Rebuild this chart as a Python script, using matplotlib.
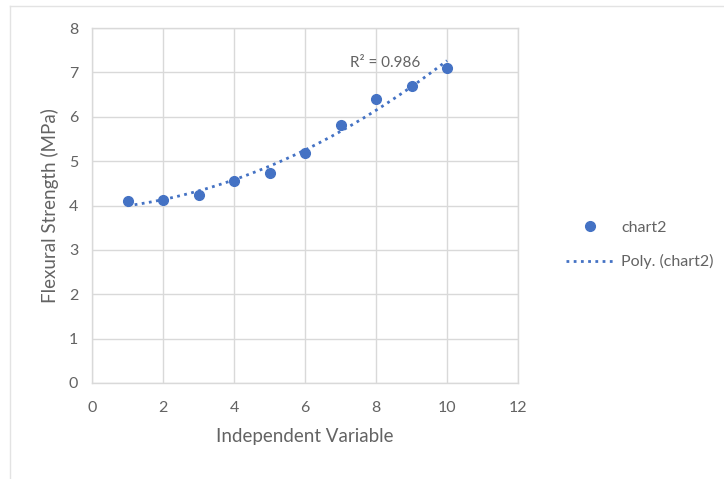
import numpy as np
import matplotlib
matplotlib.use("Agg")
import matplotlib.pyplot as plt
from matplotlib.lines import Line2D

x_vals = [1, 2, 3, 4, 5, 6, 7, 8, 9, 10]
y_vals = [4.10, 4.13, 4.23, 4.55, 4.74, 5.18, 5.81, 6.40, 6.70, 7.09]
series_name = "chart2"
trend_name = "Poly. (chart2)"
r2_label = "R² = 0.986"
x_label = "Independent Variable"
y_label = "Flexural Strength (MPa)"
x_ticks = [0, 2, 4, 6, 8, 10, 12]
y_ticks = [0, 1, 2, 3, 4, 5, 6, 7, 8]

plt.rcParams['font.family'] = ['Lato', 'DejaVu Sans']
blue = "#4472C4"
grid_c = "#d9d9d9"
text_c = "#636363"

fig = plt.figure(figsize=(7.24, 4.79), dpi=100)
ax = fig.add_axes([92/724, 1-383/479, 426/724, 355/479])

# trendline (2nd order polynomial fit)
coef = np.polyfit(x_vals, y_vals, 2)
xs = np.linspace(min(x_vals), max(x_vals), 200)
ax.plot(xs, np.polyval(coef, xs), linestyle=(0, (1, 1.6)), color=blue, lw=2.0, zorder=3)
ax.plot(x_vals, y_vals, 'o', color=blue, markersize=7, zorder=4)

ax.set_xlim(0, 12)
ax.set_ylim(0, 8)
ax.set_xticks(x_ticks)
ax.set_yticks(y_ticks)
ax.grid(True, color=grid_c, lw=1)
ax.set_axisbelow(True)
for s in ax.spines.values():
    s.set_color(grid_c)
    s.set_linewidth(1)
ax.tick_params(length=0, colors=text_c, labelsize=11.5, pad=10)
ax.tick_params(axis='x', pad=13)
ax.set_xlabel(x_label, fontsize=13.5, color=text_c, labelpad=9)
ax.set_ylabel(y_label, fontsize=13.5, color=text_c, labelpad=7)

ax.text(8.25, 7.22, r2_label, fontsize=11, color=text_c, ha='center', va='center')

handles = [Line2D([], [], marker='o', color=blue, linestyle='none', markersize=7),
           Line2D([], [], color=blue, linestyle=(0, (1, 1.6)), lw=2.0)]
fig.legend(handles, [series_name, trend_name], loc='center left',
           bbox_to_anchor=(552/724, 1-245/479), frameon=False, fontsize=11.5,
           labelcolor=text_c, handlelength=3.0, labelspacing=1.2, handletextpad=0.45)

# outer frame lines (top and left)
fig.add_artist(Line2D([10/724, 1], [1-6/479, 1-6/479], color="#e3e3e3", lw=1, transform=fig.transFigure))
fig.add_artist(Line2D([10/724, 10/724], [0, 1-6/479], color="#e3e3e3", lw=1, transform=fig.transFigure))

fig.savefig("out.png", dpi=100)
